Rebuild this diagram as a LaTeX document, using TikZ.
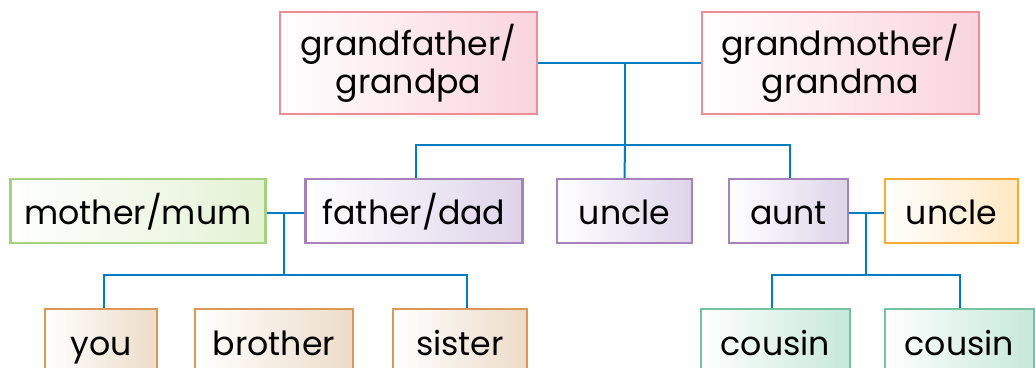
\documentclass[tikz,border=0pt]{standalone}
\usepackage{fontspec}
\setmainfont{Poppins}
\usepackage{tikz}
\usetikzlibrary{positioning}

\definecolor{linkblue}{RGB}{0,125,195}
\definecolor{pinkline}{RGB}{240,140,150}
\definecolor{pinkfill}{RGB}{250,212,222}
\definecolor{greenline}{RGB}{165,210,125}
\definecolor{greenfill}{RGB}{228,242,212}
\definecolor{lilacline}{RGB}{165,130,185}
\definecolor{lilacfill}{RGB}{222,212,234}
\definecolor{orangeline}{RGB}{248,170,50}
\definecolor{orangefill}{RGB}{255,232,195}
\definecolor{tanline}{RGB}{222,150,85}
\definecolor{tanfill}{RGB}{236,220,200}
\definecolor{tealline}{RGB}{115,195,160}
\definecolor{tealfill}{RGB}{198,232,218}

\begin{document}
\begin{tikzpicture}[x=0.5pt,y=-0.5pt,
member/.style={draw, line width=1.2pt, inner sep=0pt, minimum height=32pt,
font=\fontsize{16.6}{19}\selectfont, align=center, text height=14pt, text depth=0pt},
elder/.style={member, draw=pinkline, left color=white, right color=pinkfill,
minimum height=51pt, text height=, text depth=},
inlaw/.style={member, draw=greenline, left color=white, right color=greenfill},
child/.style={member, draw=lilacline, left color=white, right color=lilacfill},
spouse/.style={member, draw=orangeline, left color=white, right color=orangefill},
sibling/.style={member, draw=tanline, left color=white, right color=tanfill},
cousin/.style={member, draw=tealline, left color=white, right color=tealfill},
link/.style={draw=linkblue, line width=1pt}]
\useasboundingbox (0,0) rectangle (1036,368);

% grandparents
\node (grandpa) [elder, minimum width=128.5pt] at (408.5,63) {grandfather/\\grandpa};
\node (grandma) [elder, minimum width=138.5pt] at (840.5,63) {grandmother/\\grandma};

% parents, uncle, aunt
\node (father) [child, minimum width=108.5pt] at (414,211) {father/dad};
\node (mother) [inlaw, minimum width=127.5pt, node distance=138pt, left of=father] {mother/mum};
\node (uncle) [child, minimum width=67.5pt] at (624.5,211) {uncle};
\node (aunt) [child, minimum width=59.5pt] at (788.5,211) {aunt};
\node (uncleb) [spouse, minimum width=66.5pt, node distance=81.5pt, right of=aunt] {uncle};

% children
\node (you) [sibling, minimum width=56pt] at (101,341) {you};
\node (brother) [sibling, minimum width=79pt, node distance=86.5pt, right of=you] {brother};
\node (sister) [sibling, minimum width=67pt, node distance=93pt, right of=brother] {sister};
\node (cousina) [cousin, minimum width=74.5pt] at (775.5,341) {cousin};
\node (cousinb) [cousin, minimum width=74.5pt, node distance=92pt, right of=cousina] {cousin};

\coordinate (gp) at (625,63);
\coordinate (gpkids) at (625,145);
\coordinate (mf) at (284,213);
\coordinate (mfkids) at (284,275);
\coordinate (au) at (866,213);
\coordinate (aukids) at (866,275);

\draw[link] (grandpa) -- (grandma);
\draw[link] (gp) -- (gpkids);
\draw[link] ([xshift=1pt]father.north) |- (gpkids) -| ([xshift=0.75pt]aunt.north);
\draw[link] (gpkids) -- (uncle.north);

\draw[link] (mother.east |- mf) -- (father.west |- mf);
\draw[link] (mf) -- (mfkids);
\draw[link] ([xshift=1.5pt]you.north) |- (mfkids) -| ([xshift=3.5pt]sister.north);

\draw[link] (aunt.east |- au) -- (uncleb.west |- au);
\draw[link] (au) -- (aukids);
\draw[link] ([xshift=-1.75pt]cousina.north) |- (aukids) -| (cousinb.north);
\end{tikzpicture}
\end{document}
